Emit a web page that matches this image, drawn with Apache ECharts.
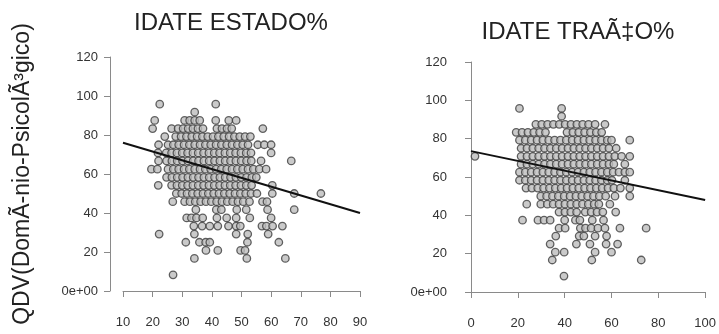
<!DOCTYPE html>
<html>
<head>
<meta charset="utf-8">
<script src="https://cdn.jsdelivr.net/npm/echarts@6/dist/echarts.min.js"></script>
<style>
  html, body { margin: 0; padding: 0; background: #fff; }
  #chart { width: 719px; height: 334px; }
</style>
</head>
<body>
<div id="chart"></div>
<script>
// QDV score levels (one row of points per level)
const qdvLevels = [95.8, 91.7, 87.5, 83.3, 79.2, 75, 70.8, 66.7, 62.5, 58.3, 54.2, 50, 45.8, 41.7, 37.5, 33.3, 29.2, 25, 20.8, 16.7, 8.3]

// IDATE ESTADO% values read for each QDV row
const estadoX = [
  [22.4, 41.3],
  [34.2],
  [20.7, 30.8, 32.5, 34.2, 35.9, 41.3, 45.7, 48.2],
  [20, 26.4, 28.6, 30.3, 32, 33.6, 35.3, 37, 41.7, 43.4, 45.1, 46.7, 57.2],
  [24.1, 27.8, 29.6, 31.4, 33.2, 35, 36.8, 38.6, 40.4, 42.2, 44, 45.8, 47.6, 49.4, 51.2, 53],
  [22, 25.2, 27, 28.8, 30.6, 32.4, 34.2, 36, 37.8, 39.6, 41.4, 43.2, 45, 46.8, 48.6, 50.4, 52.2, 55.5, 57.7, 60],
  [21.8, 24.6, 26.4, 28.2, 30, 31.8, 33.6, 35.4, 37.2, 39, 40.8, 42.6, 44.4, 46.2, 48, 49.8, 51.6, 53.2, 60],
  [22, 24.7, 26.5, 28.3, 30.1, 31.9, 33.7, 35.5, 37.3, 39.1, 40.9, 42.7, 44.5, 46.3, 48.1, 49.9, 51.7, 53.3, 56.6, 66.8],
  [19.6, 21.6, 25.2, 27, 28.8, 30.6, 32.4, 34.2, 36, 37.8, 39.6, 41.4, 43.2, 45, 46.8, 48.6, 50.4, 52.2, 54, 56, 58.3],
  [24.7, 26.5, 28.3, 30.1, 31.9, 33.7, 35.5, 37.3, 39.1, 40.9, 42.7, 44.5, 46.3, 48.1, 49.9, 51.7, 53.5, 55],
  [21.9, 26.4, 28.2, 30, 31.8, 33.6, 35.4, 37.2, 39, 40.8, 42.6, 44.4, 46.2, 48, 49.8, 51.6, 53.4, 60.4],
  [28, 29.8, 31.6, 33.4, 35.2, 37, 38.8, 40.6, 42.4, 44.2, 46, 47.8, 49.6, 51.4, 53.2, 55.2, 60.4, 67.8, 76.8],
  [26.8, 30.8, 32.6, 34.4, 36.2, 38, 39.8, 41.6, 43.4, 45.2, 47, 48.8, 50.6, 52.7, 57.1, 58.6],
  [34.6, 41.5, 43.2, 48.4, 51.6, 58.8, 67.8],
  [31.5, 33.1, 34.8, 36.9, 41.7, 45, 48.2, 52.8, 60],
  [33.9, 36.7, 39.3, 42, 45.6, 48.2, 49.6, 56.9, 58.4, 60.5, 63.8],
  [22.2, 34.1, 48.2, 52.1, 59],
  [31.2, 35.8, 37.9, 39.3, 52, 62.6],
  [38, 42, 49.7, 51.2],
  [34.1, 51.8, 64.8],
  [26.9]
]

// IDATE TRAÇO% values read for each QDV row
const tracoX = [
  [20.7, 38.7],
  [38.7],
  [27.7, 30.2, 32.7, 35.2, 37.7, 40.2, 42.7, 45.2, 47.7, 50.2, 53, 57.2],
  [19.3, 21.8, 24.3, 26.8, 29.3, 31.8, 41, 43.5, 46, 48.5, 51, 53.5, 55.8],
  [20.7, 23.2, 25.7, 28.2, 30.7, 33.2, 35.7, 38.2, 40.7, 43.2, 45.7, 48.2, 50.7, 53.2, 55.7, 58.2, 60, 67.8],
  [21.4, 23.9, 26.4, 28.9, 31.4, 33.9, 36.4, 38.9, 41.4, 43.9, 46.4, 48.9, 51.4, 53.9, 56.4, 58.9, 62],
  [1.7, 21.4, 23.9, 26.4, 28.9, 31.4, 33.9, 36.4, 38.9, 41.4, 43.9, 46.4, 48.9, 51.4, 53.9, 56.4, 58.9, 61.4, 64.3, 67.8],
  [21.4, 23.9, 26.4, 28.9, 31.4, 33.9, 36.4, 38.9, 41.4, 43.9, 46.4, 48.9, 51.4, 53.9, 56.4, 58.9, 61, 65.7],
  [20.7, 23.2, 25.7, 28.2, 30.7, 33.2, 35.7, 38.2, 40.7, 43.2, 45.7, 48.2, 50.7, 53.2, 55.7, 58.2, 60.7, 63.2, 65.7, 67.8],
  [20.7, 23.2, 25.7, 28.2, 30.7, 33.2, 35.7, 38.2, 40.7, 43.2, 45.7, 48.2, 50.7, 53.2, 55.7, 58.2, 60.2, 65.7],
  [23.5, 26, 28.5, 31, 33.5, 36, 38.5, 41, 43.5, 46, 48.5, 51, 53.5, 56, 58.5, 61, 63.8, 67.8],
  [29.8, 32.3, 34.8, 37.3, 39.8, 42.3, 44.8, 47.3, 49.8, 52.3, 54.8, 57.5, 61.5, 67.8],
  [23.8, 29.8, 32.6, 35.1, 37.6, 40.1, 42.6, 45.1, 47.6, 50.1, 52.6, 54.6, 59.3],
  [37.6, 40.1, 42.6, 45.1, 48.8, 51.3, 53.8, 56.3, 61.8],
  [22, 28.6, 31.2, 33.8, 40, 44.6, 46.5, 51.8, 56.6],
  [37.6, 40.2, 46.7, 48.9, 51.3, 54.2, 57.2, 63.6, 74.8],
  [36.2, 46.2, 48.2, 53, 57.9],
  [33.8, 45, 50.8, 57.7, 62.6],
  [36, 39.8, 53, 60],
  [34.7, 51.6, 72.7],
  [39.7]
]

// fitted regression lines (endpoints)
const estadoFit = [[10, 76], [90, 40]]
const tracoFit = [[0, 73.5], [100, 48]]

const titles = ['IDATE ESTADO%', 'IDATE TRAÃ‡O%']
const yName = 'QDV(DomÃ-nio-PsicolÃ³gico)'

const toPoints = xsRows => xsRows.flatMap((xs, i) => xs.map(x => [x, qdvLevels[i]]))

const chart = echarts.init(document.getElementById('chart'), null, { renderer: 'canvas' })

const font = 'Liberation Sans, Arial, sans-serif'
const axisGray = '#8a8a8a'
const labelStyle = { color: '#333', fontSize: 13, fontFamily: font }

const xAxisBase = (gridIndex, min, max, interval) => ({
  type: 'value', gridIndex, min, max, interval,
  offset: 15,
  splitLine: { show: false },
  axisLine: { show: true, lineStyle: { color: axisGray, width: 1 } },
  axisTick: { show: true, length: 6, lineStyle: { color: axisGray } },
  axisLabel: { ...labelStyle, margin: 10 },
})

const yAxisBase = (gridIndex, offset) => ({
  type: 'value', gridIndex, min: 0, max: 120, interval: 20,
  offset,
  splitLine: { show: false },
  axisLine: { show: true, lineStyle: { color: axisGray, width: 1 } },
  axisTick: { show: true, length: 6, lineStyle: { color: axisGray } },
  axisLabel: { ...labelStyle, margin: 12, formatter: v => (v === 0 ? '0e+00' : v) },
})

const pointStyle = { color: '#bdbdbd', borderColor: '#3c3c3c', borderWidth: 1.3 }

const option = {
  animation: false,
  backgroundColor: '#fff',
  title: [
    { text: titles[0], left: 226, top: 6, textAlign: 'center',
      textStyle: { fontSize: 24, fontWeight: 'normal', color: '#222', fontFamily: font } },
    { text: titles[1], left: 573, top: 15, textAlign: 'center',
      textStyle: { fontSize: 24, fontWeight: 'normal', color: '#222', fontFamily: font } },
  ],
  grid: [
    { left: 123, top: 57, width: 237, height: 234 },
    { left: 471, top: 62, width: 237, height: 230 },
  ],
  xAxis: [
    xAxisBase(0, 10, 90, 10),
    xAxisBase(1, 0, 100, 20),
  ],
  yAxis: [
    { ...yAxisBase(0, 13),
      name: yName, nameLocation: 'middle', nameRotate: 90, nameGap: 76,
      nameTextStyle: { fontSize: 23, color: '#222', fontFamily: font } },
    yAxisBase(1, 12),
  ],
  series: [
    {
      type: 'scatter', xAxisIndex: 0, yAxisIndex: 0,
      data: toPoints(estadoX), symbolSize: 7.5, itemStyle: pointStyle,
    },
    {
      type: 'line', xAxisIndex: 0, yAxisIndex: 0,
      data: estadoFit, symbol: 'none',
      lineStyle: { color: '#111', width: 2 },
    },
    {
      type: 'scatter', xAxisIndex: 1, yAxisIndex: 1,
      data: toPoints(tracoX), symbolSize: 7.5, itemStyle: pointStyle,
    },
    {
      type: 'line', xAxisIndex: 1, yAxisIndex: 1,
      data: tracoFit, symbol: 'none',
      lineStyle: { color: '#111', width: 2 },
    },
  ],
}

chart.setOption(option)
</script>
</body>
</html>
